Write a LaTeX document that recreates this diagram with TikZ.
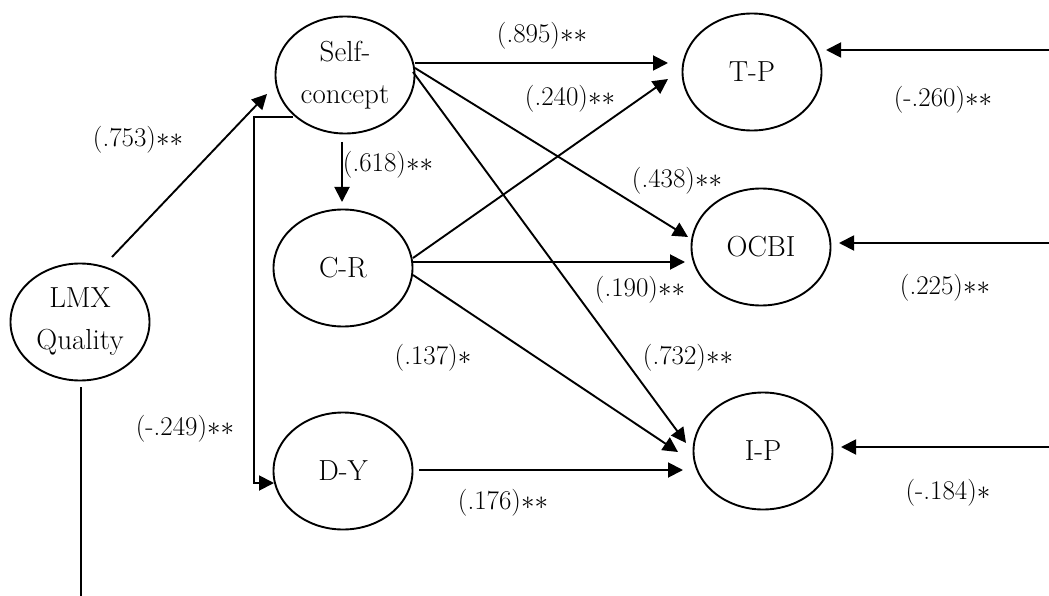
\RequirePackage{fix-cm}
\documentclass[tikz,border=0pt]{standalone}
\usetikzlibrary{shapes.geometric,arrows.meta}
\begin{document}
\begin{tikzpicture}[x=1pt,y=-1pt,
  var/.style={draw, ellipse, line width=1.9pt, minimum width=139pt, minimum height=117pt,
    inner sep=0pt, align=center, font=\fontsize{29}{42}\selectfont},
  ln/.style={line width=1.9pt},
  arr/.style={line width=1.9pt, -{Triangle[length=15pt,width=15pt]}},
  lab/.style={font=\fontsize{27}{30}\selectfont, inner sep=0pt}]
\useasboundingbox (0,0) rectangle (1049,596);
\fill[white] (0,0) rectangle (1049,596);

% variables
\node[var] (SC)   at (345,75)  {Self-\\concept};
\node[var] (CR)   at (343,268) {C-R};
\node[var] (DY)   at (343,471) {D-Y};
\node[var] (LMX)  at (80,322)  {LMX\\Quality};
\node[var] (TP)   at (752,72)  {T-P};
\node[var] (OCBI) at (761,247) {OCBI};
\node[var] (IP)   at (763,451) {I-P};

% free ends
\coordinate (bot) at (81,596);
\coordinate (r1) at (1049,50);
\coordinate (r2) at (1049,243);
\coordinate (r3) at (1049,447);

% paths
\draw[arr] ([shift={(32,-65)}]LMX.center) -- ([shift={(-78,19)}]SC.center);
\draw[arr] ([shift={(70,-12)}]SC.center) -- ([shift={(-84,-9)}]TP.center);
\draw[arr] ([shift={(70,-7)}]SC.center) -- ([shift={(-73,-10)}]OCBI.center);
\draw[arr] ([shift={(68,-3)}]SC.center) -- ([shift={(-77,-8)}]IP.center);
\draw[arr] ([shift={(-3,67)}]SC.center) -- ([shift={(-1,-66)}]CR.center);
\draw[arr] ([shift={(70,-10)}]CR.center) -- ([shift={(-84,7)}]TP.center);
\draw[arr] ([shift={(69,-6)}]CR.center) -- ([shift={(-76,15)}]OCBI.center);
\draw[arr] ([shift={(70,7)}]CR.center) -- ([shift={(-85,1)}]IP.center);
\draw[arr] ([shift={(76,-1)}]DY.center) -- ([shift={(-80,19)}]IP.center);
\draw[arr] ([shift={(-52,42)}]SC.center) -- ++(-39,0) |- ([shift={(-69,12)}]DY.center);
\draw[ln] ([shift={(1,65)}]LMX.center) -- (bot);
\draw[arr] (r1) -- ([shift={(74,-22)}]TP.center);
\draw[arr] (r2) -- ([shift={(78,-4)}]OCBI.center);
\draw[arr] (r3) -- ([shift={(78,-4)}]IP.center);

% labels
\node[lab] (l753) at (138,140) {(.753)${\ast}{\ast}$};
\node[lab] (l618) at (388,165) {(.618)${\ast}{\ast}$};
\node[lab] (l895) at (542,36)  {(.895)${\ast}{\ast}$};
\node[lab] (l240) at (570,99)  {(.240)${\ast}{\ast}$};
\node[lab] (l438) at (677,181) {(.438)${\ast}{\ast}$};
\node[lab] (l190) at (640,290) {(.190)${\ast}{\ast}$};
\node[lab] (l732) at (688,358) {(.732)${\ast}{\ast}$};
\node[lab] (l137) at (433,358) {(.137)${\ast}$};
\node[lab] (l176) at (503,503) {(.176)${\ast}{\ast}$};
\node[lab] (l249) at (185,429) {(-.249)${\ast}{\ast}$};
\node[lab] (l260) at (943,100) {(-.260)${\ast}{\ast}$};
\node[lab] (l225) at (945,288) {(.225)${\ast}{\ast}$};
\node[lab] (l184) at (948,493) {(-.184)${\ast}$};
\end{tikzpicture}
\end{document}
